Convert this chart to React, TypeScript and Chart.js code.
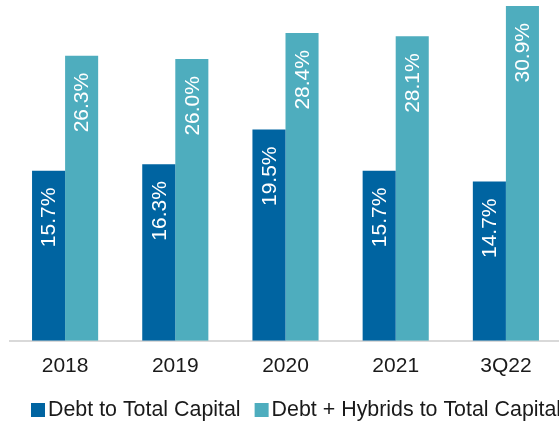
import React, { useEffect, useRef } from "react";
import { Chart, registerables } from "chart.js";

Chart.register(...registerables);

const categories = ["2018", "2019", "2020", "2021", "3Q22"];
const debtToCapital = [15.7, 16.3, 19.5, 15.7, 14.7];
const debtHybridsToCapital = [26.3, 26.0, 28.4, 28.1, 30.9];
const seriesNames = ["Debt to Total Capital", "Debt + Hybrids to Total Capital"];
const seriesColors = ["#0064A1", "#4EADBE"];

const FONT = "'Liberation Sans', Arial, sans-serif";

const barLabelPlugin = {
  id: "barLabels",
  afterDatasetsDraw(chart: any) {
    const ctx = chart.ctx;
    ctx.save();
    ctx.fillStyle = "#ffffff";
    ctx.font = `21px ${FONT}`;
    ctx.textAlign = "right";
    ctx.textBaseline = "middle";
    chart.data.datasets.forEach((ds: any, di: number) => {
      const meta = chart.getDatasetMeta(di);
      meta.data.forEach((bar: any, i: number) => {
        const v = ds.data[i];
        ctx.save();
        ctx.translate(bar.x + 1, bar.y + 17);
        ctx.rotate(-Math.PI / 2);
        ctx.fillText(v.toFixed(1) + "%", 0, 0);
        ctx.restore();
      });
    });
    ctx.restore();
  },
};

const legendPlugin = {
  id: "customLegend",
  afterDraw(chart: any) {
    const ctx = chart.ctx;
    ctx.save();
    ctx.font = `21.4px ${FONT}`;
    ctx.textBaseline = "middle";
    ctx.textAlign = "left";
    let x = 31;
    const yc = 410;
    chart.data.datasets.forEach((ds: any) => {
      ctx.fillStyle = ds.backgroundColor;
      ctx.fillRect(x, yc - 7, 14, 14);
      x += 14 + 3;
      ctx.fillStyle = "#1a1a1a";
      ctx.fillText(ds.label, x, yc);
      x += ctx.measureText(ds.label).width + 14;
    });
    ctx.restore();
  },
};

export default function App() {
  const ref = useRef<HTMLCanvasElement>(null);
  useEffect(() => {
    if (!ref.current) return;
    const chart = new Chart(ref.current, {
      type: "bar",
      data: {
        labels: categories,
        datasets: [
          {
            label: seriesNames[0],
            data: debtToCapital,
            backgroundColor: seriesColors[0],
            barPercentage: 1,
            categoryPercentage: 0.6,
          },
          {
            label: seriesNames[1],
            data: debtHybridsToCapital,
            backgroundColor: seriesColors[1],
            barPercentage: 1,
            categoryPercentage: 0.6,
          },
        ],
      },
      options: {
        responsive: false,
        animation: false,
        layout: { padding: { left: 10, right: 1, top: 0, bottom: 29 } },
        plugins: {
          legend: { display: false },
          tooltip: { enabled: false },
        },
        scales: {
          x: {
            grid: { display: false, drawTicks: false },
            border: { display: true, color: "#d9d9d9", width: 2 },
            ticks: {
              color: "#1a1a1a",
              font: { family: FONT, size: 21 },
              padding: 13,
            },
          },
          y: {
            display: false,
            min: 0,
            max: 31.45,
          },
        },
      },
      plugins: [barLabelPlugin, legendPlugin],
    });
    return () => chart.destroy();
  }, []);
  return (
    <div
      style={{
        position: "absolute",
        left: 0,
        top: 0,
        width: 559,
        height: 421,
        overflow: "hidden",
        background: "#ffffff",
      }}
    >
      <canvas ref={ref} width={562} height={421} style={{ display: "block" }} />
    </div>
  );
}
